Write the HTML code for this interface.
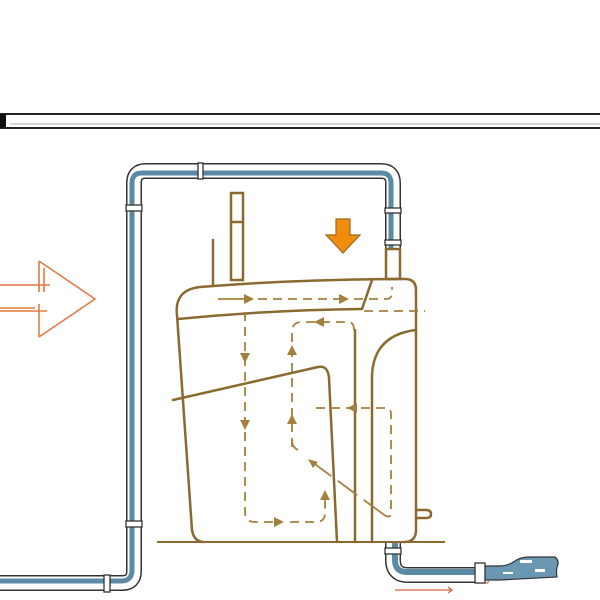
<!DOCTYPE html>
<html><head><style>html,body{margin:0;padding:0;background:#fff}svg{display:block}</style></head>
<body>
<svg width="600" height="600" viewBox="0 0 600 600" xmlns="http://www.w3.org/2000/svg">
<!-- top bar -->
<rect x="0" y="114" width="602" height="14" fill="#fff" stroke="#222" stroke-width="2"/>
<rect x="0" y="114" width="6" height="14" fill="#111"/>
<line x1="10" y1="124" x2="600" y2="124" stroke="#aaa" stroke-width="1"/>

<!-- main pipe -->
<g fill="none">
<path d="M0 583 L122 583 Q134 583 134 571 L134 183 Q134 171 146 171 L381 171 Q393 171 393 183 L393 249" stroke="#333" stroke-width="16"/>
<path d="M0 583 L122 583 Q134 583 134 571 L134 183 Q134 171 146 171 L381 171 Q393 171 393 183 L393 249" stroke="#fff" stroke-width="13"/>
<path d="M0 581 L121 581 Q132 581 132 570 L132 183 Q132 173 142 173 L381 173 Q391 173 391 183 L391 249" stroke="#5a8aa6" stroke-width="5"/>
</g>
<g fill="#fff" stroke="#333" stroke-width="1.3">
<rect x="126" y="205" width="16" height="6"/>
<rect x="126" y="521" width="16" height="6"/>
<rect x="104" y="575" width="6" height="17"/>
<rect x="198" y="163" width="5" height="16"/>
<rect x="385" y="208" width="16" height="5"/>
<rect x="385" y="240" width="16" height="5"/>
</g>

<!-- bottom outlet pipe -->
<g fill="none">
<path d="M393 543 L393 560 Q393 575 408 575 L480 575" stroke="#333" stroke-width="16"/>
<path d="M393 543 L393 560 Q393 575 408 575 L480 575" stroke="#fff" stroke-width="13"/>
<path d="M395 543 L395 560 Q395 572 407 572 L480 572" stroke="#5a8aa6" stroke-width="6"/>
</g>
<rect x="385" y="548" width="16" height="6" fill="#fff" stroke="#333" stroke-width="1.3"/>
<path d="M484 566 L500 566 Q508 566 515 561 Q520 557 530 557 L555 557 Q560 561 557 567 Q556 573 557 577 L500 580 L484 580 Z" fill="#6a98b2" stroke="#333" stroke-width="1.2"/>
<rect x="520" y="560" width="12" height="3" fill="#fff"/>
<rect x="503" y="572" width="10" height="2" fill="#fff"/>
<rect x="535" y="569" width="10" height="3" fill="#fff"/>
<rect x="475" y="563" width="10" height="20" fill="#fff" stroke="#333" stroke-width="1.3"/>
<path d="M395 590 L452 590 M448 587 L452 590 L448 593" stroke="#d8643a" stroke-width="1.2" fill="none"/>
<path d="M486 584 L489 581" stroke="#d8643a" stroke-width="1.2"/>

<!-- tank -->
<g fill="none" stroke="#8b6a2f" stroke-width="2.5" stroke-linecap="round">
<path d="M192 530 L177 315 Q174 290 200 287 Q300 279 405 279 Q416 279 416 290 L416 530 Q416 542 404 542"/>
<path d="M192 530 Q194 542 204 542"/>
<path d="M178 319 Q270 310 362 309"/>
<path d="M362 309 L372 280"/>
<path d="M173 400 L318 367 Q328 365 329 378 L337 542"/>
<path d="M355 330 L355 542"/>
<path d="M372 542 L372 375 Q374 335 416 330"/>
<rect x="231" y="193" width="12" height="87"/>
<line x1="231" y1="222" x2="243" y2="222"/>
<line x1="213" y1="240" x2="213" y2="285"/>
<rect x="386" y="249" width="14" height="30"/>
<path d="M416 510 L426 510 Q431 510 431 514 Q431 518 426 518 L416 518"/>
</g>
<line x1="157" y1="542" x2="445" y2="542" stroke="#8b6a2f" stroke-width="2"/>

<!-- flow arrows -->
<g fill="none" stroke="#a4803c" stroke-width="1.8">
<line x1="218" y1="299" x2="245" y2="299"/>
<path d="M258 299 L342 299" stroke-dasharray="9 6"/>
<path d="M354 299 L386 299 Q392 299 392 293 L392 287" stroke-dasharray="9 6"/>
<path d="M364 311 L425 311" stroke-dasharray="9 6"/>
<path d="M245 312 L245 512 Q245 522 255 522 L278 522" stroke-dasharray="9 6"/>
<path d="M290 522 L316 522 Q325 522 325 513 L325 500" stroke-dasharray="9 6"/>
<path d="M292 447 L292 332 Q292 322 302 322 L348 322 Q354 322 354 330" stroke-dasharray="9 6"/>
<path d="M316 408 L386 408 Q391 408 391 414 L391 512 Q391 520 383 514" stroke-dasharray="9 6"/>
<path d="M383 514 L312 462" stroke-dasharray="24 8"/>
<path d="M292 440 Q292 447 298 450"/>
</g>
<g fill="#a4803c">
<path d="M244 294 L254 299 L244 304Z"/>
<path d="M339 294 L349 299 L339 304Z"/>
<path d="M240 353 L245 363 L250 353Z"/>
<path d="M240 420 L245 430 L250 420Z"/>
<path d="M274 517 L284 522 L274 527Z"/>
<path d="M320 500 L325 490 L330 500Z"/>
<path d="M287 355 L292 345 L297 355Z"/>
<path d="M287 424 L292 414 L297 424Z"/>
<path d="M324 317 L314 322 L324 327Z"/>
<path d="M357 403 L347 408 L357 413Z"/>
<path d="M308 459 L318 462 L313 468Z"/>
</g>

<!-- orange down arrow -->
<path d="M336 219 L350 219 L350 235 L360 235 L343 253 L326 235 L336 235Z" fill="#f28c0f" stroke="#9a6a1f" stroke-width="1.2"/>

<!-- left orange arrow -->
<g fill="none" stroke="#e07a44" stroke-width="1.6">
<path d="M39 261 L95 299 L39 337"/>
<line x1="39" y1="261" x2="39" y2="292"/>
<line x1="44" y1="268" x2="44" y2="292"/>
<line x1="0" y1="285" x2="50" y2="285"/>
<line x1="39" y1="304" x2="39" y2="337"/>
<line x1="0" y1="308" x2="35" y2="308"/>
<line x1="0" y1="311" x2="47" y2="311"/>
</g>
</svg>
</body></html>
